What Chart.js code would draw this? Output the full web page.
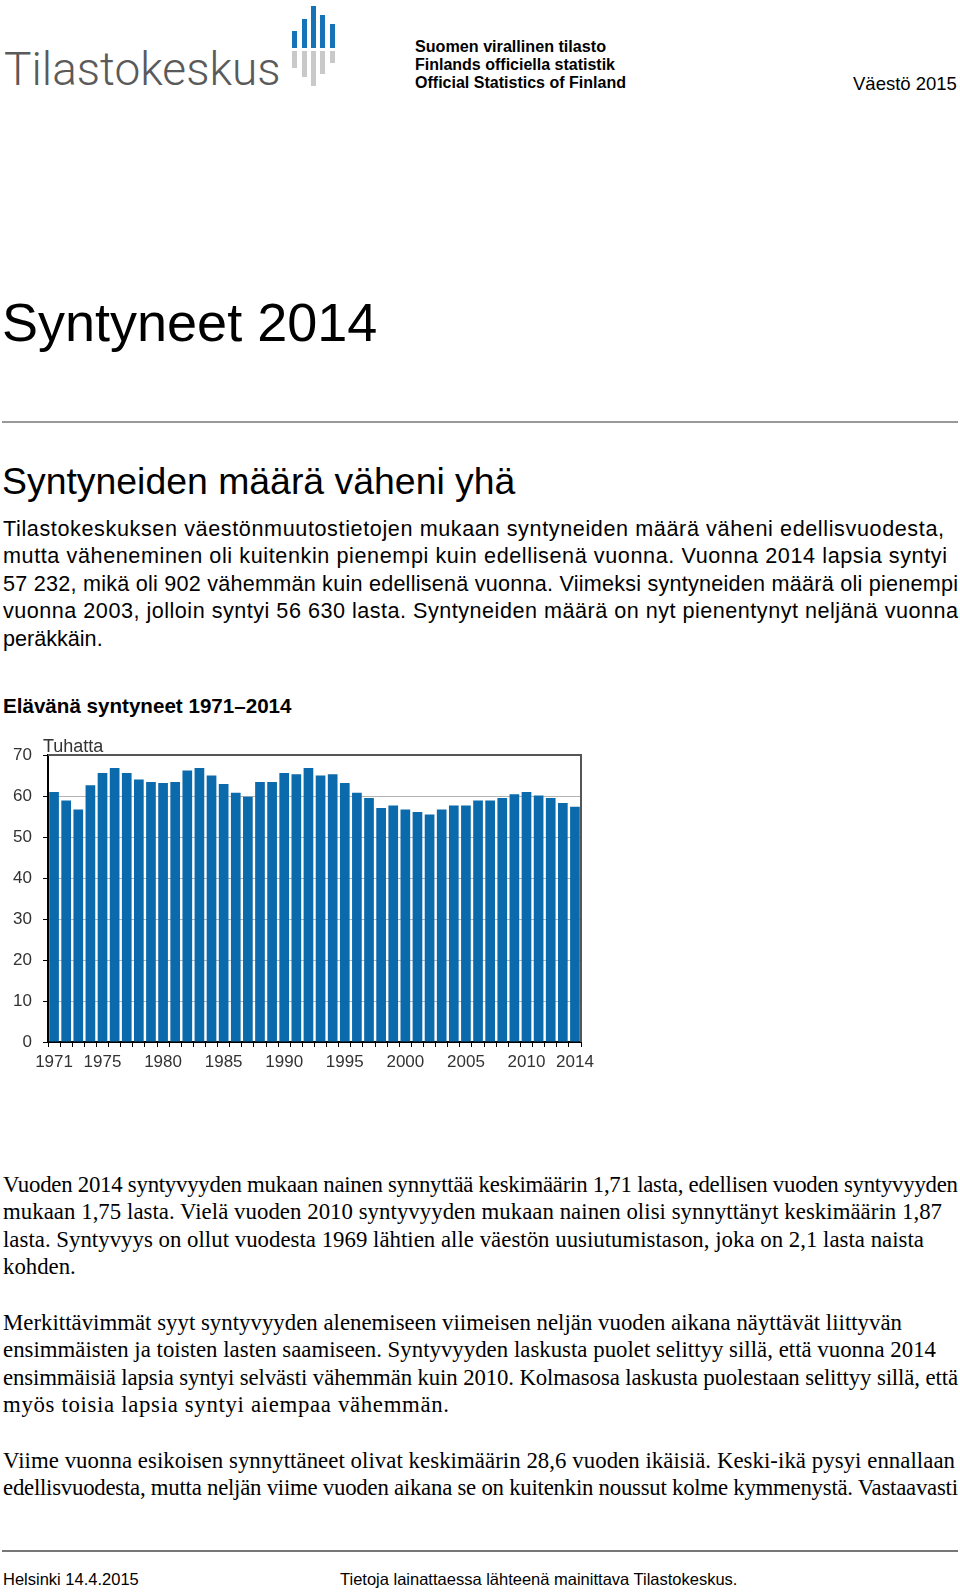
<!DOCTYPE html>
<html lang="fi">
<head>
<meta charset="UTF-8">
<title>Syntyneet 2014</title>
<script src="https://cdn.jsdelivr.net/npm/chart.js"></script>
<style>
    body { margin: 0; width: 960px; height: 1592px; position: relative; background: #fff; color: #000; font-family: "Liberation Sans", Arial, sans-serif; overflow: hidden; }
    .abs { position: absolute; white-space: nowrap; }
    .ln { display: inline-block; white-space: nowrap; }
    .logo-text { left: 4px; top: 46px; font-family: Roboto, "Liberation Sans", sans-serif; font-weight: 300; font-size: 46px; line-height: 1; color: #5a5a5a; letter-spacing: 0; }
    .bar { position: absolute; width: 5px; }
    .official { left: 415px; top: 38px; font-family: "Liberation Sans", Arial, sans-serif; font-weight: bold; font-size: 16px; line-height: 17.8px; }
    .official .ln { transform-origin: left center; }
    .series { left: 853px; top: 75px; font-size: 18.5px; line-height: 1; }
    h1 { margin: 0; left: 2px; top: 295px; font-weight: normal; font-size: 54px; line-height: 1; }
    .rule { left: 2px; width: 956px; height: 2px; background: #999; }
    h2 { margin: 0; left: 2px; top: 463px; font-weight: normal; font-size: 37.4px; line-height: 1; }
    .lead { left: 3px; top: 515px; font-size: 21.6px; line-height: 27.4px; }
    .chart-title { left: 3px; top: 696px; font-weight: bold; font-size: 20.6px; line-height: 1; }
    .chart-box { left: 0; top: 725px; width: 600px; height: 360px; }
    .serif { left: 3px; font-family: "Liberation Serif", "Times New Roman", serif; font-size: 22.8px; line-height: 27.4px; }
    .footer { top: 1571px; font-size: 16.5px; line-height: 1; }
</style>
</head>
<body>
    <div class="abs logo-text">Tilastokeskus</div>
    <div id="logo-bars"></div>
    <div class="abs official">
        <span class="ln sx" data-r="606">Suomen virallinen tilasto</span><br>
        <span class="ln sx" data-r="615">Finlands officiella statistik</span><br>
        <span class="ln sx" data-r="626">Official Statistics of Finland</span>
    </div>
    <div class="abs series">Väestö 2015</div>

    <h1 class="abs">Syntyneet 2014</h1>
    <div class="abs rule" style="top: 421px;"></div>
    <h2 class="abs">Syntyneiden määrä väheni yhä</h2>
    <div class="abs lead">
        <span class="ln fit" data-r="944">Tilastokeskuksen väestönmuutostietojen mukaan syntyneiden määrä väheni edellisvuodesta,</span><br>
        <span class="ln fit" data-r="947">mutta väheneminen oli kuitenkin pienempi kuin edellisenä vuonna. Vuonna 2014 lapsia syntyi</span><br>
        <span class="ln fit" data-r="958">57 232, mikä oli 902 vähemmän kuin edellisenä vuonna. Viimeksi syntyneiden määrä oli pienempi</span><br>
        <span class="ln fit" data-r="958">vuonna 2003, jolloin syntyi 56 630 lasta. Syntyneiden määrä on nyt pienentynyt neljänä vuonna</span><br>
        <span class="ln">peräkkäin.</span>
    </div>

    <div class="abs chart-title">Elävänä syntyneet 1971–2014</div>
    <div class="abs chart-box"><canvas id="births" width="600" height="360"></canvas></div>

    <div class="abs serif" style="top: 1171px;">
        <span class="ln fit" data-r="958">Vuoden 2014 syntyvyyden mukaan nainen synnyttää keskimäärin 1,71 lasta, edellisen vuoden syntyvyyden</span><br>
        <span class="ln fit" data-r="942">mukaan 1,75 lasta. Vielä vuoden 2010 syntyvyyden mukaan nainen olisi synnyttänyt keskimäärin 1,87</span><br>
        <span class="ln fit" data-r="924">lasta. Syntyvyys on ollut vuodesta 1969 lähtien alle väestön uusiutumistason, joka on 2,1 lasta naista</span><br>
        <span class="ln">kohden.</span>
    </div>
    <div class="abs serif" style="top: 1309px;">
        <span class="ln fit" data-r="902">Merkittävimmät syyt syntyvyyden alenemiseen viimeisen neljän vuoden aikana näyttävät liittyvän</span><br>
        <span class="ln fit" data-r="936">ensimmäisten ja toisten lasten saamiseen. Syntyvyyden laskusta puolet selittyy sillä, että vuonna 2014</span><br>
        <span class="ln fit" data-r="958">ensimmäisiä lapsia syntyi selvästi vähemmän kuin 2010. Kolmasosa laskusta puolestaan selittyy sillä, että</span><br>
        <span class="ln fit" data-r="449">myös toisia lapsia syntyi aiempaa vähemmän.</span>
    </div>
    <div class="abs serif" style="top: 1447px;">
        <span class="ln fit" data-r="955">Viime vuonna esikoisen synnyttäneet olivat keskimäärin 28,6 vuoden ikäisiä. Keski-ikä pysyi ennallaan</span><br>
        <span class="ln fit" data-r="958">edellisvuodesta, mutta neljän viime vuoden aikana se on kuitenkin noussut kolme kymmenystä. Vastaavasti</span>
    </div>

    <div class="abs rule" style="top: 1550px; background: #777;"></div>
    <div class="abs footer" style="left: 3px;">Helsinki 14.4.2015</div>
    <div class="abs footer" style="left: 340px;">Tietoja lainattaessa lähteenä mainittava Tilastokeskus.</div>

    <script>
        // Elävänä syntyneet, tuhatta
        const years = ['1971','1972','1973','1974','1975','1976','1977','1978','1979','1980',
                       '1981','1982','1983','1984','1985','1986','1987','1988','1989','1990',
                       '1991','1992','1993','1994','1995','1996','1997','1998','1999','2000',
                       '2001','2002','2003','2004','2005','2006','2007','2008','2009','2010',
                       '2011','2012','2013','2014'];
        const births = [61.0, 58.9, 56.7, 62.6, 65.6, 66.8, 65.6, 64.0, 63.4, 63.2,
                        63.4, 66.2, 66.8, 65.0, 62.9, 60.8, 59.8, 63.4, 63.4, 65.6,
                        65.3, 66.8, 65.0, 65.3, 63.2, 60.8, 59.5, 57.1, 57.7, 56.7,
                        56.1, 55.5, 56.7, 57.7, 57.7, 58.9, 58.9, 59.5, 60.4, 61.0,
                        60.1, 59.5, 58.3, 57.4];
        const labelYears = ['1971','1975','1980','1985','1990','1995','2000','2005','2010','2014'];
        const yMax = 70;
        const yStep = 10;
        const unitLabel = 'Tuhatta';

        const FONT = 'Liberation Sans';

        // text lines: stretch to the widths seen in the original layout
        document.querySelectorAll('.fit').forEach(el => {
            const r = el.getBoundingClientRect();
            const n = el.textContent.length - 1;
            el.style.letterSpacing = ((+el.dataset.r - r.right) / n) + 'px';
        });
        document.querySelectorAll('.sx').forEach(el => {
            const r = el.getBoundingClientRect();
            el.style.transform = `scaleX(${(+el.dataset.r - r.left) / r.width})`;
        });

        // logo: five blue bars with grey "reflection"
        const logoBars = [[292, 31, 66], [302, 19, 75], [311, 6, 84], [320, 15, 72], [330, 24, 61]];
        document.getElementById('logo-bars').innerHTML = logoBars.map(([x, top, bottom]) => `
            <div class="bar" style="left:${x}px; top:${top}px; height:${48 - top}px; background:#1673b8;"></div>
            <div class="bar" style="left:${x}px; top:51px; height:${bottom - 49}px; background:#c9c9c9;"></div>
        `).join('');

        const frame = {
            id: 'frame',
            afterDatasetsDraw(chart) {
                const { ctx, chartArea: a } = chart;
                ctx.save();
                ctx.strokeStyle = '#555';
                ctx.lineWidth = 2;
                ctx.beginPath();
                ctx.moveTo(a.left, a.top);
                ctx.lineTo(a.right, a.top);
                ctx.lineTo(a.right, a.bottom);
                ctx.stroke();
                ctx.fillStyle = '#333';
                ctx.font = `18px "${FONT}"`;
                ctx.textAlign = 'left';
                ctx.textBaseline = 'alphabetic';
                ctx.fillText(unitLabel, a.left - 5, a.top - 3);
                ctx.restore();
            }
        };

        new Chart(document.getElementById('births'), {
            type: 'bar',
            data: {
                labels: years,
                datasets: [{
                    data: births,
                    backgroundColor: '#0b6aac',
                    barPercentage: 0.8,
                    categoryPercentage: 1.0
                }]
            },
            options: {
                responsive: false,
                animation: false,
                devicePixelRatio: 1,
                layout: { padding: { top: 30, right: 19, left: 0, bottom: 0 } },
                plugins: { legend: { display: false }, tooltip: { enabled: false } },
                scales: {
                    x: {
                        afterFit: s => { s.height = 43; },
                        grid: { offset: true, drawOnChartArea: false, drawTicks: true, tickLength: 5, tickColor: '#000' },
                        border: { color: '#000', width: 2 },
                        ticks: {
                            autoSkip: false, maxRotation: 0, minRotation: 0, padding: 5,
                            color: '#333', font: { family: FONT, size: 17 },
                            callback: (v, i) => labelYears.includes(years[i]) ? years[i] : ''
                        }
                    },
                    y: {
                        min: 0, max: yMax,
                        afterFit: s => { s.width = 48; },
                        grid: {
                            color: c => c.tick && c.tick.value === yMax ? '#555' : '#b4b4b4',
                            tickColor: '#000', tickLength: 5
                        },
                        border: { color: '#000', width: 2 },
                        ticks: { stepSize: yStep, padding: 11, color: '#333', font: { family: FONT, size: 17 } }
                    }
                }
            },
            plugins: [frame]
        });
    </script>
</body>
</html>
